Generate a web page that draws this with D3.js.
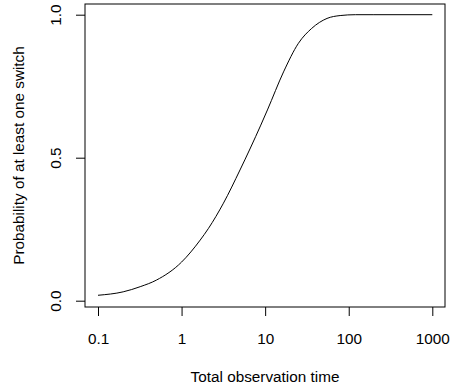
<!DOCTYPE html>
<html>
<head>
<meta charset="utf-8">
<script src="https://cdn.jsdelivr.net/npm/d3@7"></script>
<style>
  body { margin: 0; background: #fff; }
  svg text { font-family: "Liberation Sans", Arial, Helvetica, sans-serif; }
</style>
</head>
<body>
<svg id="chart" width="451" height="388"></svg>
<script>
// values
const times = [0.1, 0.2, 0.32, 0.5, 1, 1.67, 2.1, 3.17, 5, 8.87, 10.65, 16.6, 25, 36, 55, 79, 120, 200, 1000];
const probs = [0.019, 0.031, 0.049, 0.072, 0.135, 0.212, 0.253, 0.341, 0.457, 0.614, 0.667, 0.80, 0.90, 0.952, 0.987, 0.997, 1.0, 1.0, 1.0];
const xTicks = [0.1, 1, 10, 100, 1000];
const xTickLabels = ["0.1", "1", "10", "100", "1000"];
const yTicks = [0, 0.5, 1];
const yTickLabels = ["0.0", "0.5", "1.0"];

const svg = d3.select("#chart");
const fontSize = "15.3px";
const box = { left: 85, right: 445, top: 4, bottom: 307 };

const x = d3.scaleLog()
  .domain([0.1, 1000])
  .range([98, 432.3]);

const y = d3.scaleLinear()
  .domain([0, 1])
  .range([300.7, 14.7]);

const data = times.map((t, i) => ({ t, p: probs[i] }));

// frame
svg.append("rect")
  .attr("x", box.left)
  .attr("y", box.top)
  .attr("width", box.right - box.left)
  .attr("height", box.bottom - box.top)
  .attr("fill", "none")
  .attr("stroke", "#000")
  .attr("stroke-width", 1);

// x axis
const xAxis = svg.append("g")
  .attr("transform", `translate(0,${box.bottom})`)
  .call(d3.axisBottom(x)
    .tickValues(xTicks)
    .tickFormat((d, i) => xTickLabels[i])
    .tickSize(9)
    .tickPadding(17));
xAxis.select(".domain").remove();
xAxis.selectAll("text")
  .attr("font-size", fontSize)
  .attr("fill", "#000")
  .attr("font-family", "Liberation Sans, Arial, sans-serif");

// y axis
const yAxis = svg.append("g")
  .attr("transform", `translate(${box.left},0)`)
  .call(d3.axisLeft(y)
    .tickValues(yTicks)
    .tickFormat((d, i) => yTickLabels[i])
    .tickSize(9));
yAxis.select(".domain").remove();
yAxis.selectAll("text")
  .attr("font-size", fontSize)
  .attr("fill", "#000")
  .attr("font-family", "Liberation Sans, Arial, sans-serif")
  .attr("text-anchor", "middle")
  .attr("x", 0)
  .attr("y", 0)
  .attr("dy", 0)
  .attr("transform", "translate(-29.5,0) rotate(-90)")
  .attr("dominant-baseline", "central");

// curve
const line = d3.line()
  .x(d => x(d.t))
  .y(d => y(d.p))
  .curve(d3.curveMonotoneX);

svg.append("path")
  .datum(data)
  .attr("d", line)
  .attr("fill", "none")
  .attr("stroke", "#000")
  .attr("stroke-width", 1);

// axis titles
svg.append("text")
  .attr("x", (box.left + box.right) / 2)
  .attr("y", 381.5)
  .attr("text-anchor", "middle")
  .attr("font-size", fontSize)
  .text("Total observation time");

svg.append("text")
  .attr("transform", `translate(23.5,${(box.top + box.bottom) / 2}) rotate(-90)`)
  .attr("text-anchor", "middle")
  .attr("font-size", fontSize)
  .text("Probability of at least one switch");
</script>
</body>
</html>
